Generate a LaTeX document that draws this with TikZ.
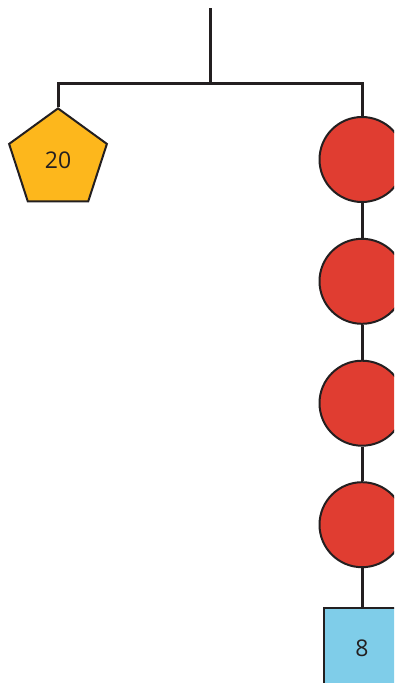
\documentclass[tikz,border=0pt]{standalone}
\usepackage{fontspec}
\setmainfont{Open Sans}
\usetikzlibrary{shapes.geometric}
\definecolor{ink}{HTML}{231F20}
\definecolor{yel}{HTML}{FDB71C}
\definecolor{redc}{HTML}{E03D31}
\definecolor{bluec}{HTML}{7FCDE9}
\begin{document}
\begin{tikzpicture}[x=1pt,y=-1pt,
  wire/.style={draw=ink,line width=3pt},
  ball/.style={circle,draw=ink,line width=2pt,fill=redc,minimum size=85pt,inner sep=0pt},
  lbl/.style={font=\fontsize{23}{23}\selectfont,text=ink,inner sep=0pt},
  penta/.style={regular polygon,regular polygon sides=5,draw=ink,line width=2pt,fill=yel,minimum size=102.8pt,inner sep=0pt,lbl},
  sq/.style={rectangle,draw=ink,line width=2pt,fill=bluec,minimum width=76pt,minimum height=110pt,inner sep=0pt,anchor=north}]
\useasboundingbox (0,0) rectangle (394,683);
\clip (0,0) rectangle (394,683);
\coordinate (top) at (210,8);
\coordinate (mid) at (210,83);
\coordinate (bl) at (58,83);
\coordinate (br) at (362,83);
\node[penta] (p) at (58,159.8) {20};
\node[ball] (c1) at (362,159.5) {};
\node[ball] (c2) at (362,281.3) {};
\node[ball] (c3) at (362,403.2) {};
\node[ball] (c4) at (362,524.7) {};
\node[sq] (s) at (362,607) {};
\node[lbl] (s8) at (362,648) {8};
\draw[wire] (top) -- (mid);
\draw[wire,line join=miter] (p.corner 1) -- (bl) -- (br) -- (c1.north);
\draw[wire] (c1.south) -- (c2.north);
\draw[wire] (c2.south) -- (c3.north);
\draw[wire] (c3.south) -- (c4.north);
\draw[wire] (c4.south) -- (s.north);
\end{tikzpicture}
\end{document}
